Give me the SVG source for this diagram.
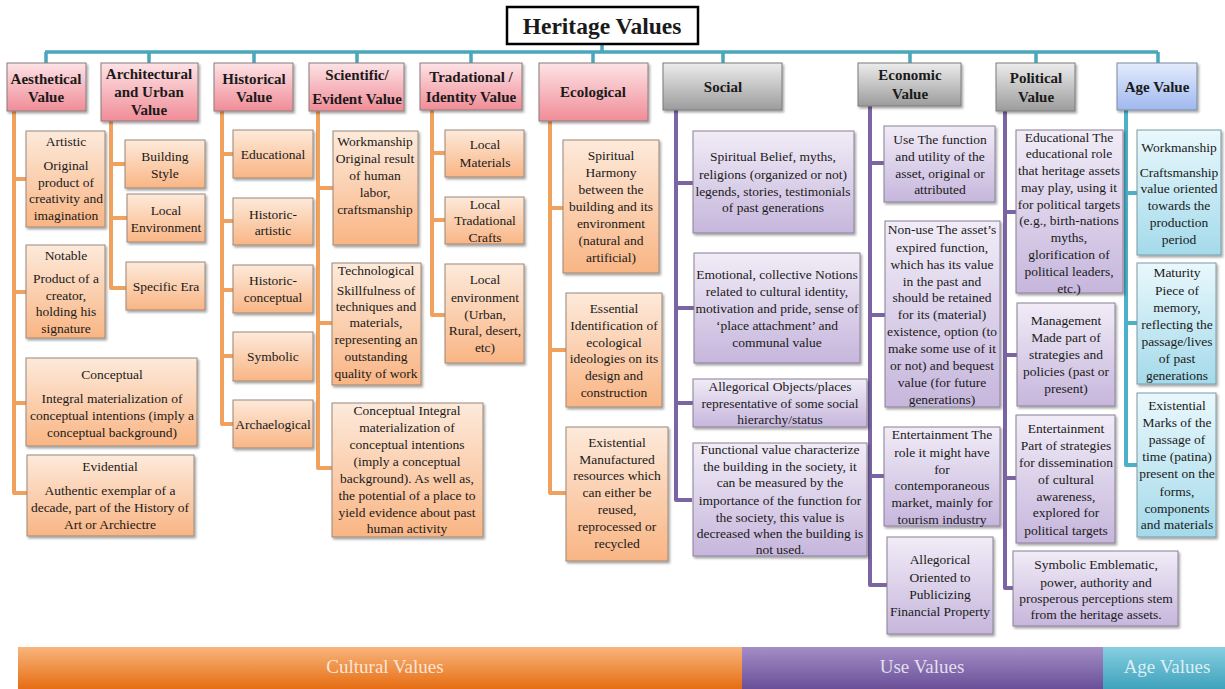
<svg xmlns="http://www.w3.org/2000/svg" width="1225" height="689" viewBox="0 0 1225 689">
<defs>
<linearGradient id="gPink" x1="0" y1="0" x2="0" y2="1"><stop offset="0" stop-color="#fde3e6"/><stop offset="1" stop-color="#f08c97"/></linearGradient>
<linearGradient id="gGray" x1="0" y1="0" x2="0" y2="1"><stop offset="0" stop-color="#ececec"/><stop offset="1" stop-color="#9c9c9c"/></linearGradient>
<linearGradient id="gBlue" x1="0" y1="0" x2="0" y2="1"><stop offset="0" stop-color="#e4ecfc"/><stop offset="1" stop-color="#9fb8ef"/></linearGradient>
<linearGradient id="gOr" x1="0" y1="0" x2="0" y2="1"><stop offset="0" stop-color="#fdeadb"/><stop offset="1" stop-color="#f9b584"/></linearGradient>
<linearGradient id="gPu" x1="0" y1="0" x2="0" y2="1"><stop offset="0" stop-color="#f1ecf7"/><stop offset="1" stop-color="#c6b6dc"/></linearGradient>
<linearGradient id="gTe" x1="0" y1="0" x2="0" y2="1"><stop offset="0" stop-color="#e9f8fc"/><stop offset="1" stop-color="#a4daea"/></linearGradient>
<linearGradient id="bOr" x1="0" y1="0" x2="0" y2="1"><stop offset="0" stop-color="#f8b57c"/><stop offset="1" stop-color="#e66d12"/></linearGradient>
<linearGradient id="bPu" x1="0" y1="0" x2="0" y2="1"><stop offset="0" stop-color="#a48ec6"/><stop offset="1" stop-color="#6a4f98"/></linearGradient>
<linearGradient id="bTe" x1="0" y1="0" x2="0" y2="1"><stop offset="0" stop-color="#86cfe0"/><stop offset="1" stop-color="#3fa2bc"/></linearGradient>
<filter id="sh" x="-10%" y="-10%" width="125%" height="125%"><feDropShadow dx="1.5" dy="2" stdDeviation="1.2" flood-color="#000" flood-opacity="0.35"/></filter>
</defs>
<style>
text{fill:#1a1a1a;text-anchor:middle}
.h{font-size:15px;font-weight:bold}
.c{font-size:13.5px}
.t{font-size:23.5px;font-weight:bold}
.b{font-size:19px;fill:#ffffff;fill-opacity:0.78}
.hp{fill:url(#gPink);stroke:#8a7a7a;stroke-width:1;filter:url(#sh)}
.hg{fill:url(#gGray);stroke:#7a7a7a;stroke-width:1;filter:url(#sh)}
.hb{fill:url(#gBlue);stroke:#7a8aa0;stroke-width:1;filter:url(#sh)}
.co{fill:url(#gOr);stroke:#9a8878;stroke-width:1;filter:url(#sh)}
.cp{fill:url(#gPu);stroke:#8a8096;stroke-width:1;filter:url(#sh)}
.ct{fill:url(#gTe);stroke:#7a9aa4;stroke-width:1;filter:url(#sh)}
.lt{fill:none;stroke:#4aa6bb;stroke-width:3.5}
.lo{fill:none;stroke:#f0a15e;stroke-width:4;stroke-linejoin:round}
.lp{fill:none;stroke:#7a64a4;stroke-width:4;stroke-linejoin:round}
.la{fill:none;stroke:#4cb0c8;stroke-width:4;stroke-linejoin:round}
</style>
<rect width="1225" height="689" fill="#ffffff"/>

<g id="connectors">
<path class="lt" d="M602,44 V52 M45,52 H1158 M46,52 V63 M149,52 V63 M254,52 V63 M357,52 V63 M471,52 V63 M593,52 V63 M723,52 V63 M910,52 V63 M1036,52 V63 M1158,52 V63"/>
<path class="lo" d="M14,111 V493 H27 M14,179 H26 M14,292 H26 M14,403 H26"/>
<path class="lo" d="M111,121 V288 H126 M111,164 H125 M111,218 H127"/>
<path class="lo" d="M222,111 V424 H233 M222,154 H233 M222,221 H233 M222,290 H233 M222,356 H233"/>
<path class="lo" d="M318,111 V468 H332 M318,188 H333 M318,323 H332"/>
<path class="lo" d="M432,110 V315 H445 M432,153 H445 M432,220 H445"/>
<path class="lo" d="M550,121 V493 H566 M550,208 H563 M550,350 H566"/>
<path class="lp" d="M676,110 V500 H692 M676,183 H693 M676,308 H694 M676,403 H693"/>
<path class="lp" d="M870,106 V585 H887 M870,163 H884 M870,315 H885 M870,476 H884"/>
<path class="lp" d="M1005,111 V588 H1013 M1005,212 H1016 M1005,355 H1017 M1005,478 H1016"/>
<path class="la" d="M1126,110 V465 H1137 M1126,193 H1137 M1126,323 H1137"/>
</g>

<g font-family="'Liberation Serif', 'Times New Roman', 'DejaVu Serif', serif">
<g id="title">
<rect x="507" y="7" width="191" height="37" fill="#ffffff" stroke="#000000" stroke-width="2.5"/>
<text class="t" x="602" y="34">Heritage Values</text>
</g>

<g id="h-aesthetical"><rect class="hp" x="7" y="63" width="79" height="48"/><text class="h"><tspan x="46" y="84">Aesthetical</tspan><tspan x="46" y="102">Value</tspan></text></g>
<g id="h-architectural"><rect class="hp" x="101" y="63" width="97" height="58"/><text class="h"><tspan x="149" y="79">Architectural</tspan><tspan x="149" y="97">and Urban</tspan><tspan x="149" y="115">Value</tspan></text></g>
<g id="h-historical"><rect class="hp" x="214" y="63" width="79" height="48"/><text class="h"><tspan x="254" y="84">Historical</tspan><tspan x="254" y="102">Value</tspan></text></g>
<g id="h-scientific"><rect class="hp" x="309" y="63" width="95" height="48"/><text class="h"><tspan x="357" y="80">Scientific/</tspan><tspan x="357" y="104">Evident Value</tspan></text></g>
<g id="h-tradational"><rect class="hp" x="420" y="63" width="102" height="47"/><text class="h"><tspan x="471" y="82">Tradational  /</tspan><tspan x="471" y="102">Identity Value</tspan></text></g>
<g id="h-ecological"><rect class="hp" x="539" y="63" width="109" height="58"/><text class="h" x="593" y="97">Ecological</text></g>
<g id="h-social"><rect class="hg" x="663" y="63" width="119" height="47"/><text class="h" x="723" y="92">Social</text></g>
<g id="h-economic"><rect class="hg" x="858" y="63" width="103" height="43"/><text class="h"><tspan x="910" y="80">Economic</tspan><tspan x="910" y="99">Value</tspan></text></g>
<g id="h-political"><rect class="hg" x="996" y="63" width="79" height="48"/><text class="h"><tspan x="1036" y="83">Political</tspan><tspan x="1036" y="102">Value</tspan></text></g>
<g id="h-age"><rect class="hb" x="1117" y="63" width="80" height="47"/><text class="h" x="1157" y="92">Age Value</text></g>

<g id="n-artistic"><rect class="co" x="26" y="131" width="79" height="96"/><text class="c"><tspan x="66" y="146">Artistic</tspan><tspan x="66" y="170">Original</tspan><tspan x="66" y="187">product of</tspan><tspan x="66" y="203">creativity and</tspan><tspan x="66" y="220">imagination</tspan></text></g>
<g id="n-notable"><rect class="co" x="26" y="245" width="79" height="93"/><text class="c"><tspan x="66" y="260">Notable</tspan><tspan x="66" y="283">Product of a</tspan><tspan x="66" y="300">creator,</tspan><tspan x="66" y="316">holding his</tspan><tspan x="66" y="333">signature</tspan></text></g>
<g id="n-conceptual"><rect class="co" x="26" y="358" width="171" height="88"/><text class="c"><tspan x="112" y="379">Conceptual</tspan><tspan x="112" y="403">Integral materialization of</tspan><tspan x="112" y="420">conceptual intentions (imply a</tspan><tspan x="112" y="437">conceptual background)</tspan></text></g>
<g id="n-evidential"><rect class="co" x="27" y="455" width="167" height="81"/><text class="c"><tspan x="110" y="471">Evidential</tspan><tspan x="110" y="495">Authentic exemplar of a</tspan><tspan x="110" y="512">decade, part of the History of</tspan><tspan x="110" y="529">Art or Archiectre</tspan></text></g>

<g id="n-building-style"><rect class="co" x="125" y="140" width="80" height="48"/><text class="c"><tspan x="165" y="161">Building</tspan><tspan x="165" y="178">Style</tspan></text></g>
<g id="n-local-env"><rect class="co" x="127" y="194" width="78" height="48"/><text class="c"><tspan x="166" y="215">Local</tspan><tspan x="166" y="232">Environment</tspan></text></g>
<g id="n-specific-era"><rect class="co" x="126" y="262" width="79" height="48"/><text class="c" x="166" y="291">Specific Era</text></g>

<g id="n-educational"><rect class="co" x="233" y="130" width="80" height="48"/><text class="c" x="273" y="159">Educational</text></g>
<g id="n-hist-artistic"><rect class="co" x="233" y="198" width="80" height="47"/><text class="c"><tspan x="273" y="219">Historic-</tspan><tspan x="273" y="235">artistic</tspan></text></g>
<g id="n-hist-conceptual"><rect class="co" x="233" y="265" width="80" height="48"/><text class="c"><tspan x="273" y="285">Historic-</tspan><tspan x="273" y="302">conceptual</tspan></text></g>
<g id="n-symbolic"><rect class="co" x="233" y="332" width="80" height="49"/><text class="c" x="273" y="361">Symbolic</text></g>
<g id="n-archaelogical"><rect class="co" x="233" y="400" width="80" height="48"/><text class="c" x="273" y="429">Archaelogical</text></g>

<g id="n-workmanship-s"><rect class="co" x="333" y="131" width="85" height="114"/><text class="c"><tspan x="375" y="146">Workmanship</tspan><tspan x="375" y="163">Original result</tspan><tspan x="375" y="180">of human</tspan><tspan x="375" y="197">labor,</tspan><tspan x="375" y="214">craftsmanship</tspan></text></g>
<g id="n-technological"><rect class="co" x="332" y="263" width="89" height="122"/><text class="c"><tspan x="376" y="275">Technological</tspan><tspan x="376" y="295">Skillfulness of</tspan><tspan x="376" y="311">techniques and</tspan><tspan x="376" y="327">materials,</tspan><tspan x="376" y="344">representing an</tspan><tspan x="376" y="361">outstanding</tspan><tspan x="376" y="378">quality of work</tspan></text></g>
<g id="n-conceptual-integral"><rect class="co" x="332" y="403" width="151" height="134"/><text class="c"><tspan x="407" y="415">Conceptual Integral</tspan><tspan x="407" y="432">materialization of</tspan><tspan x="407" y="449">conceptual intentions</tspan><tspan x="407" y="466">(imply a conceptual</tspan><tspan x="407" y="483">background). As well as,</tspan><tspan x="407" y="500">the potential of a place to</tspan><tspan x="407" y="517">yield evidence about past</tspan><tspan x="407" y="533">human activity</tspan></text></g>

<g id="n-local-materials"><rect class="co" x="445" y="130" width="79" height="47"/><text class="c"><tspan x="485" y="149">Local</tspan><tspan x="485" y="167">Materials</tspan></text></g>
<g id="n-local-crafts"><rect class="co" x="445" y="197" width="79" height="47"/><text class="c"><tspan x="485" y="209">Local</tspan><tspan x="485" y="225">Tradational</tspan><tspan x="485" y="242">Crafts</tspan></text></g>
<g id="n-local-environment"><rect class="co" x="445" y="264" width="79" height="99"/><text class="c"><tspan x="485" y="284">Local</tspan><tspan x="485" y="302">environment</tspan><tspan x="485" y="319">(Urban,</tspan><tspan x="485" y="335">Rural, desert,</tspan><tspan x="485" y="352">etc)</tspan></text></g>

<g id="n-spiritual-harmony"><rect class="co" x="563" y="140" width="96" height="133"/><text class="c"><tspan x="611" y="160">Spiritual</tspan><tspan x="611" y="177">Harmony</tspan><tspan x="611" y="194">between the</tspan><tspan x="611" y="211">building and its</tspan><tspan x="611" y="228">environment</tspan><tspan x="611" y="245">(natural and</tspan><tspan x="611" y="262">artificial)</tspan></text></g>
<g id="n-essential"><rect class="co" x="566" y="293" width="96" height="114"/><text class="c"><tspan x="614" y="313">Essential</tspan><tspan x="614" y="330">Identification of</tspan><tspan x="614" y="347">ecological</tspan><tspan x="614" y="363">ideologies on its</tspan><tspan x="614" y="380">design and</tspan><tspan x="614" y="397">construction</tspan></text></g>
<g id="n-existential-e"><rect class="co" x="566" y="427" width="102" height="134"/><text class="c"><tspan x="617" y="447">Existential</tspan><tspan x="617" y="464">Manufactured</tspan><tspan x="617" y="480">resources which</tspan><tspan x="617" y="497">can either be</tspan><tspan x="617" y="514">reused,</tspan><tspan x="617" y="531">reprocessed or</tspan><tspan x="617" y="548">recycled</tspan></text></g>

<g id="n-spiritual-belief"><rect class="cp" x="693" y="131" width="161" height="102"/><text class="c"><tspan x="773" y="161">Spiritual Belief, myths,</tspan><tspan x="773" y="179">religions (organized or not)</tspan><tspan x="773" y="196">legends, stories, testimonials</tspan><tspan x="773" y="212">of past generations</tspan></text></g>
<g id="n-emotional"><rect class="cp" x="694" y="253" width="166" height="110"/><text class="c"><tspan x="777" y="279">Emotional, collective Notions</tspan><tspan x="777" y="296">related to cultural identity,</tspan><tspan x="777" y="313">motivation and pride, sense of</tspan><tspan x="777" y="330">‘place attachment’ and</tspan><tspan x="777" y="347">communal value</tspan></text></g>
<g id="n-allegorical-objects"><rect class="cp" x="693" y="379" width="174" height="48"/><text class="c"><tspan x="780" y="391">Allegorical Objects/places</tspan><tspan x="780" y="408">representative of some social</tspan><tspan x="780" y="424">hierarchy/status</tspan></text></g>
<g id="n-functional"><rect class="cp" x="693" y="443" width="174" height="113"/><text class="c"><tspan x="780" y="454">Functional value  characterize</tspan><tspan x="780" y="471">the building in the society, it</tspan><tspan x="780" y="487">can be measured by the</tspan><tspan x="780" y="505">importance of the function for</tspan><tspan x="780" y="522">the society, this value is</tspan><tspan x="780" y="538">decreased when the building is</tspan><tspan x="780" y="554">not used.</tspan></text></g>

<g id="n-use"><rect class="cp" x="884" y="126" width="111" height="76"/><text class="c"><tspan x="940" y="144">Use The function</tspan><tspan x="940" y="161">and utility of the</tspan><tspan x="940" y="178">asset, original or</tspan><tspan x="940" y="194">attributed</tspan></text></g>
<g id="n-non-use"><rect class="cp" x="885" y="221" width="115" height="186"/><text class="c"><tspan x="942" y="234">Non-use The asset’s</tspan><tspan x="942" y="252">expired function,</tspan><tspan x="942" y="269">which has its value</tspan><tspan x="942" y="286">in the past and</tspan><tspan x="942" y="302">should be retained</tspan><tspan x="942" y="319">for its (material)</tspan><tspan x="942" y="336">existence, option (to</tspan><tspan x="942" y="353">make some use of it</tspan><tspan x="942" y="370">or not) and bequest</tspan><tspan x="942" y="387">value (for future</tspan><tspan x="942" y="404">generations)</tspan></text></g>
<g id="n-entertainment-e"><rect class="cp" x="884" y="427" width="116" height="99"/><text class="c"><tspan x="942" y="439">Entertainment The</tspan><tspan x="942" y="457">role it might have</tspan><tspan x="942" y="474">for</tspan><tspan x="942" y="490">contemporaneous</tspan><tspan x="942" y="507">market, mainly for</tspan><tspan x="942" y="524">tourism industry</tspan></text></g>
<g id="n-allegorical-oriented"><rect class="cp" x="887" y="537" width="106" height="97"/><text class="c"><tspan x="940" y="564">Allegorical</tspan><tspan x="940" y="582">Oriented to</tspan><tspan x="940" y="599">Publicizing</tspan><tspan x="940" y="616">Financial Property</tspan></text></g>

<g id="n-educational-p"><rect class="cp" x="1016" y="130" width="107" height="163"/><text class="c"><tspan x="1069" y="142">Educational The</tspan><tspan x="1069" y="158">educational role</tspan><tspan x="1069" y="175">that heritage assets</tspan><tspan x="1069" y="192">may play, using it</tspan><tspan x="1069" y="209">for political targets</tspan><tspan x="1069" y="225">(e.g., birth-nations</tspan><tspan x="1069" y="242">myths,</tspan><tspan x="1069" y="259">glorification of</tspan><tspan x="1069" y="276">political leaders,</tspan><tspan x="1069" y="293">etc.)</tspan></text></g>
<g id="n-management"><rect class="cp" x="1017" y="303" width="98" height="103"/><text class="c"><tspan x="1066" y="325">Management</tspan><tspan x="1066" y="342">Made part of</tspan><tspan x="1066" y="359">strategies and</tspan><tspan x="1066" y="376">policies (past or</tspan><tspan x="1066" y="393">present)</tspan></text></g>
<g id="n-entertainment-p"><rect class="cp" x="1016" y="415" width="99" height="128"/><text class="c"><tspan x="1066" y="433">Entertainment</tspan><tspan x="1066" y="450">Part of strategies</tspan><tspan x="1066" y="467">for dissemination</tspan><tspan x="1066" y="484">of cultural</tspan><tspan x="1066" y="501">awareness,</tspan><tspan x="1066" y="517">explored for</tspan><tspan x="1066" y="535">political targets</tspan></text></g>
<g id="n-symbolic-p"><rect class="cp" x="1013" y="551" width="165" height="75"/><text class="c"><tspan x="1096" y="569">Symbolic Emblematic,</tspan><tspan x="1096" y="587">power, authority and</tspan><tspan x="1096" y="603">prosperous perceptions stem</tspan><tspan x="1096" y="619">from the heritage assets.</tspan></text></g>

<g id="n-workmanship-a"><rect class="ct" x="1137" y="130" width="84" height="125"/><text class="c"><tspan x="1179" y="152">Workmanship</tspan><tspan x="1179" y="177">Craftsmanship</tspan><tspan x="1179" y="193">value oriented</tspan><tspan x="1179" y="210">towards the</tspan><tspan x="1179" y="227">production</tspan><tspan x="1179" y="244">period</tspan></text></g>
<g id="n-maturity"><rect class="ct" x="1137" y="263" width="79" height="121"/><text class="c"><tspan x="1177" y="277">Maturity</tspan><tspan x="1177" y="295">Piece of</tspan><tspan x="1177" y="312">memory,</tspan><tspan x="1177" y="329">reflecting the</tspan><tspan x="1177" y="346">passage/lives</tspan><tspan x="1177" y="363">of past</tspan><tspan x="1177" y="380">generations</tspan></text></g>
<g id="n-existential-a"><rect class="ct" x="1137" y="393" width="79" height="144"/><text class="c"><tspan x="1177" y="410">Existential</tspan><tspan x="1177" y="427">Marks of the</tspan><tspan x="1177" y="444">passage of</tspan><tspan x="1177" y="461">time (patina)</tspan><tspan x="1177" y="478">present on the</tspan><tspan x="1177" y="496">forms,</tspan><tspan x="1177" y="513">components</tspan><tspan x="1177" y="529">and materials</tspan></text></g>

<g id="band-cultural"><rect x="18" y="647" width="724" height="42" fill="url(#bOr)"/><text class="b" x="385" y="673">Cultural Values</text></g>
<g id="band-use"><rect x="742" y="647" width="361" height="42" fill="url(#bPu)"/><text class="b" x="922" y="673">Use Values</text></g>
<g id="band-age"><rect x="1103" y="647" width="122" height="42" fill="url(#bTe)"/><text class="b" x="1167" y="673">Age Values</text></g>
</g>
</svg>
